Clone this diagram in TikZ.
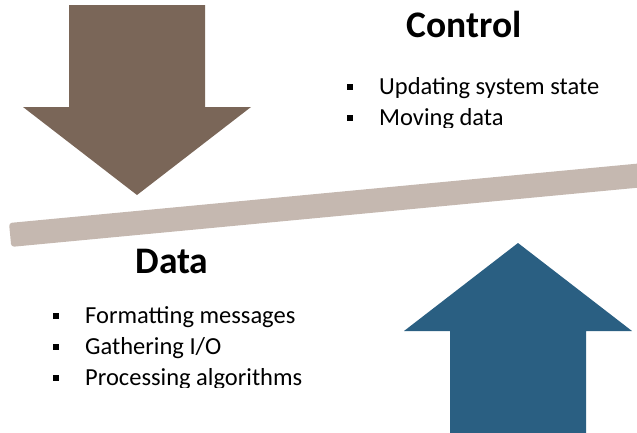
\documentclass[tikz,border=0pt]{standalone}
\usepackage{fontspec}
\setmainfont{Carlito}
\usetikzlibrary{positioning}
\definecolor{controlColor}{HTML}{7A6658}
\definecolor{dataColor}{HTML}{2A5F82}
\definecolor{beamColor}{HTML}{C5B8B0}

\begin{document}
\begin{tikzpicture}[x=1pt, y=-1pt, every node/.style={inner sep=0pt}]
	\tikzset{heading/.style={font=\fontsize{37.5}{37.5}\selectfont\bfseries, anchor=base},
		item/.style={font=\fontsize{24.5}{24.5}\selectfont, anchor=base west},
		bulletsq/.style={fill=black, minimum size=6.5pt}}
	\useasboundingbox (0,0) rectangle (637,432);
	\clip (0,0) rectangle (637,432);
	\fill[controlColor] (69,5) -- (205,5) -- (205,107) -- (251,107) -- (137,195) -- (23,107) -- (69,107) -- cycle;
	\fill[beamColor, rounded corners=3pt] (9,223) -- (700,157.7) -- (702.3,181.6) -- (11.3,246.9) -- cycle;
	\fill[dataColor] (518,243) -- (632,331) -- (586,331) -- (586,440) -- (450,440) -- (450,331) -- (404,331) -- cycle;
	\node[heading] (control) at (464,37) {Control};
	\node[heading] (data) at (172,273) {Data};
	\begin{scope}
		\clip (330,60) rectangle (637,127);
		\node[bulletsq] (c1) at (350,87) {};
		\node[item] (u1) at (379,94) {Updating system state};
		\node[bulletsq] (c2) at (350,118) {};
		\node[item] (u2) at (379,125) {Moving data};
	\end{scope}
	\begin{scope}
		\clip (30,290) rectangle (330,387);
		\node[bulletsq] (d1) at (56,316) {};
		\node[item] (f1) at (85,323) {Formatting messages};
		\node[bulletsq] (d2) at (56,347) {};
		\node[item] (f2) at (85,354) {Gathering I/O};
		\node[bulletsq] (d3) at (56,378) {};
		\node[item] (f3) at (85,385) {Processing algorithms};
	\end{scope}
\end{tikzpicture}
\end{document}
